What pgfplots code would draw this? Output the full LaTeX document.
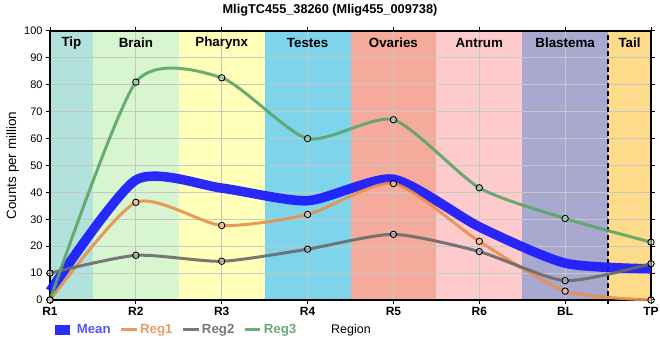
\documentclass[border=0pt]{standalone}
\usepackage{pgfplots}
\pgfplotsset{compat=1.18}
\usepackage{fontspec}
\setmainfont{Liberation Sans}
\definecolor{cTip}{HTML}{B3E2DD}
\definecolor{cBrain}{HTML}{D7F5CF}
\definecolor{cPhar}{HTML}{FFFFBA}
\definecolor{cTest}{HTML}{7ED4EB}
\definecolor{cOva}{HTML}{F5AB9C}
\definecolor{cAntr}{HTML}{FDCBCB}
\definecolor{cBlas}{HTML}{A9A8CF}
\definecolor{cTail}{HTML}{FEDB8B}
\definecolor{cMean}{HTML}{1919FF}
\definecolor{cReg1}{HTML}{E8904E}
\definecolor{cReg2}{HTML}{6A6A6A}
\definecolor{cReg3}{HTML}{5BA56A}
\definecolor{lMean}{HTML}{5555FF}
\definecolor{lReg1}{HTML}{EE9A66}
\definecolor{lReg2}{HTML}{777777}
\definecolor{lReg3}{HTML}{66AA77}
\begin{document}
\begin{tikzpicture}
\begin{axis}[
  set layers,
  scale only axis,
  at={(50bp,60bp)}, anchor=south west,
  width=601bp, height=269bp,
  xmin=0, xmax=7, ymin=0, ymax=100,
  xtick={0,1,2,3,4,5,6,7},
  xticklabels={R1,R2,R3,R4,R5,R6,BL,TP},
  ytick={0,10,...,100},
  grid=major,
  grid style={draw=black!22, line width=0.8bp},
  axis line style={black, line width=1.5bp},
  tick style={black, line width=1bp},
  tick align=outside, major tick length=4bp,
  x tick label style={font=\fontsize{12}{14}\selectfont\bfseries},
  y tick label style={font=\fontsize{11}{13}\selectfont},
  /pgf/number format/assume math mode=true,
  ylabel={Counts per million},
  ylabel style={font=\fontsize{13.5}{15}\selectfont, at={(axis description cs:-0.062,0.5)}, anchor=center, rotate=0},
  xlabel={Region},
  xlabel style={font=\fontsize{12.5}{14}\selectfont, at={(axis description cs:0.5008,-0.1115)}, anchor=center},
  legend columns=4,
  legend style={draw=none, fill=none, at={(axis description cs:-0.0057,-0.1115)}, anchor=west,
    font=\fontsize{13.3}{15}\selectfont\bfseries,
    /tikz/every odd column/.append style={column sep=0bp},
    /tikz/every even column/.append style={column sep=7bp}},
  legend image code/.code={\draw[#1] (0bp,0bp) -- (15.5bp,0bp);},
  clip=false,
]
% background bands
\addplot[on layer=axis background, draw=none, fill=cTip, forget plot] coordinates {(0,100)(0.5,100)} \closedcycle;
\addplot[on layer=axis background, draw=none, fill=cBrain, forget plot] coordinates {(0.5,100)(1.5,100)} \closedcycle;
\addplot[on layer=axis background, draw=none, fill=cPhar, forget plot] coordinates {(1.5,100)(2.5,100)} \closedcycle;
\addplot[on layer=axis background, draw=none, fill=cTest, forget plot] coordinates {(2.5,100)(3.5,100)} \closedcycle;
\addplot[on layer=axis background, draw=none, fill=cOva, forget plot] coordinates {(3.5,100)(4.5,100)} \closedcycle;
\addplot[on layer=axis background, draw=none, fill=cAntr, forget plot] coordinates {(4.5,100)(5.5,100)} \closedcycle;
\addplot[on layer=axis background, draw=none, fill=cBlas, forget plot] coordinates {(5.5,100)(6.5,100)} \closedcycle;
\addplot[on layer=axis background, draw=none, fill=cTail, forget plot] coordinates {(6.5,100)(7,100)} \closedcycle;
% divider
\addplot[black, line width=2.2bp, dash pattern=on 5bp off 3bp, forget plot] coordinates {(6.5,-1.5)(6.5,100)};
% series
\addplot[cMean, opacity=0.92, line width=9.5bp, smooth, tension=0.4]
  coordinates {(0,3.3)(1,44.6)(2,41.6)(3,36.9)(4,44.9)(5,27.2)(6,13.7)(7,11.6)};
\addlegendentry{\textcolor{lMean}{Mean}}
\addplot[cReg1, opacity=0.9, line width=3bp, smooth, tension=0.4]
  coordinates {(0,0)(1,36.3)(2,27.7)(3,31.8)(4,43.3)(5,21.8)(6,3.3)(7,0)};
\addlegendentry{\textcolor{lReg1}{Reg1}}
\addplot[cReg2, opacity=0.9, line width=3bp, smooth, tension=0.4]
  coordinates {(0,10)(1,16.6)(2,14.4)(3,18.9)(4,24.4)(5,18.0)(6,7.2)(7,13.5)};
\addlegendentry{\textcolor{lReg2}{Reg2}}
\addplot[cReg3, opacity=0.9, line width=3bp, smooth, tension=0.4]
  coordinates {(0,0)(1,81)(2,82.6)(3,60)(4,67)(5,41.7)(6,30.3)(7,21.5)};
\addlegendentry{\textcolor{lReg3}{Reg3}}
% markers
\addplot[only marks, mark=*, mark size=3.2bp, forget plot, mark options={draw=black, line width=0.9bp, fill=white, fill opacity=0.35}]
  coordinates {(0,0)(1,36.3)(2,27.7)(3,31.8)(4,43.3)(5,21.8)(6,3.3)(7,0)
  (0,10)(1,16.6)(2,14.4)(3,18.9)(4,24.4)(5,18.0)(6,7.2)(7,13.5)
  (0,0)(1,81)(2,82.6)(3,60)(4,67)(5,41.7)(6,30.3)(7,21.5)};
% band labels
\begin{scope}[font=\fontsize{13.4}{15}\selectfont\bfseries]
\node at (axis cs:0.25,95.5) {Tip};
\node at (axis cs:1,95.5) {Brain};
\node at (axis cs:2,95.5) {Pharynx};
\node at (axis cs:3,95.5) {Testes};
\node at (axis cs:4,95.5) {Ovaries};
\node at (axis cs:5,95.5) {Antrum};
\node at (axis cs:6,95.5) {Blastema};
\node at (axis cs:6.75,95.5) {Tail};
\end{scope}
\end{axis}
\node[font=\fontsize{12.8}{15}\selectfont\bfseries] at (330bp,350bp) {MligTC455\_38260 (Mlig455\_009738)};
\pgfresetboundingbox
\path (0,0) rectangle (660bp,360bp);
\end{tikzpicture}
\end{document}
